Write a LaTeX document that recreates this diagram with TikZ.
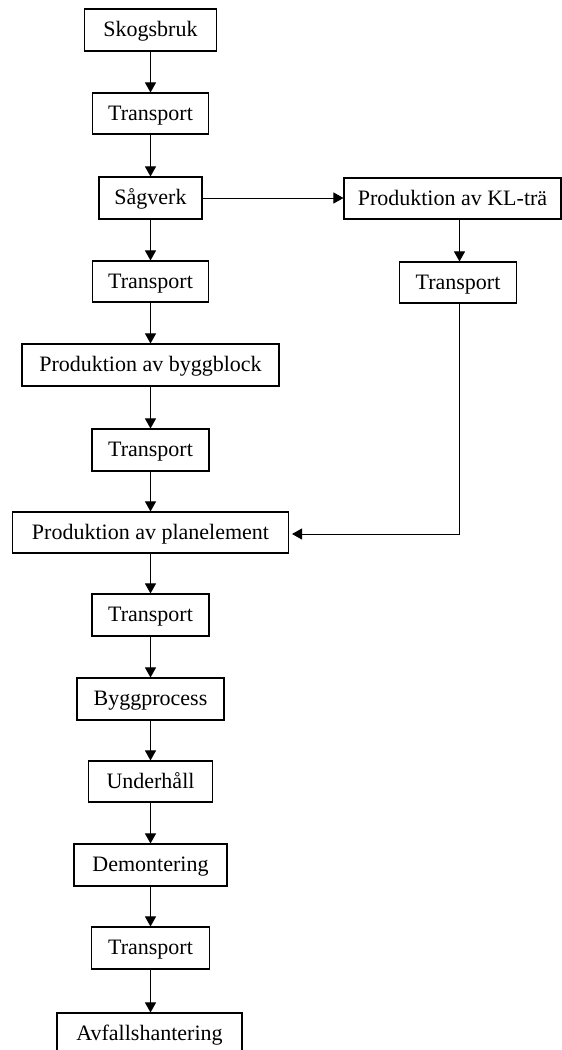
\documentclass[tikz,border=0pt]{standalone}
\usepackage{fontspec}
\setmainfont{Liberation Serif}
\usetikzlibrary{arrows.meta}
\begin{document}
\begin{tikzpicture}[x=1pt,y=-1pt,
  box/.style={draw=black,line width=1.1pt,inner sep=0pt,text height=16pt,text depth=3pt,font=\fontsize{22}{24}\selectfont,fill=white},
  arr/.style={line width=1pt,-{Triangle[length=10pt,width=11pt]}}]
\useasboundingbox (0,0) rectangle (562,1050);
\clip (0,0) rectangle (562,1050);
\node[box,minimum width=132pt,minimum height=42pt] (sk) at (150.5,30) {Skogsbruk};
\node[box,minimum width=116pt,minimum height=41pt] (t1) at (150.5,113.5) {Transport};
\node[box,minimum width=103pt,minimum height=42pt] (sa) at (150.5,198) {Sågverk};
\node[box,minimum width=116pt,minimum height=41pt] (t2) at (150.5,281.5) {Transport};
\node[box,minimum width=257pt,minimum height=42pt] (bb) at (150.5,365) {Produktion av byggblock};
\node[box,minimum width=117pt,minimum height=42pt] (t3) at (150.5,450) {Transport};
\node[box,minimum width=276pt,minimum height=41pt] (pe) at (150.5,532.5) {Produktion av planelement};
\node[box,minimum width=117pt,minimum height=42pt] (t4) at (150.5,615) {Transport};
\node[box,minimum width=147pt,minimum height=42pt] (bp) at (150.5,699) {Byggprocess};
\node[box,minimum width=124pt,minimum height=41pt] (uh) at (150.5,781.5) {Underhåll};
\node[box,minimum width=153pt,minimum height=42pt] (de) at (150.5,865) {Demontering};
\node[box,minimum width=118pt,minimum height=42pt] (t5) at (150.5,948) {Transport};
\node[box,minimum width=185pt,minimum height=42pt] (av) at (149.5,1034) {Avfallshantering};
\node[box,minimum width=217pt,minimum height=41pt] (kl) at (452.5,198.5) {Produktion av KL-trä};
\node[box,minimum width=117pt,minimum height=41pt] (t6) at (458,282.5) {Transport};
\coordinate (bend) at (459.5,534);
\draw[arr] (sk) -- (t1);
\draw[arr] (t1) -- (sa);
\draw[arr] (sa) -- (t2);
\draw[arr] (t2) -- (bb);
\draw[arr] (bb) -- (t3);
\draw[arr] (t3) -- (pe);
\draw[arr] (pe) -- (t4);
\draw[arr] (t4) -- (bp);
\draw[arr] (bp) -- (uh);
\draw[arr] (uh) -- (de);
\draw[arr] (de) -- (t5);
\draw[arr] (t5.south) -- (t5.south |- av.north);
\draw[arr] (sa.east) -- (sa.east -| kl.west);
\draw[arr] (kl.south -| bend) -- (t6.north -| bend);
\draw[arr,shorten >=3pt] (t6.south -| bend) -- (bend) -- (pe.east |- bend);
\end{tikzpicture}
\end{document}
